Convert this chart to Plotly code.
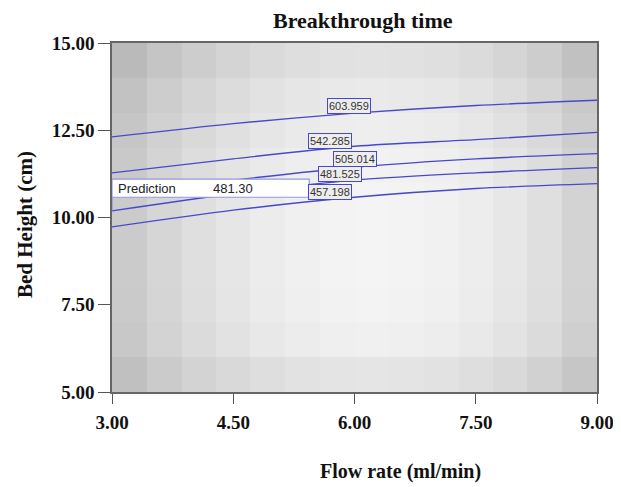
import numpy as np
import plotly.graph_objects as go

# contour lines of predicted breakthrough time
flow_pts = [3.0, 4.5, 6.0, 7.5, 9.0]
line_levels = ['603.959', '542.285', '505.014', '481.525', '457.198']
bed_603 = [12.31, 12.69, 12.99, 13.21, 13.36]
bed_542 = [11.28, 11.68, 12.04, 12.23, 12.44]
bed_505 = [10.65, 11.07, 11.44, 11.68, 11.83]
bed_481 = [10.19, 10.68, 11.07, 11.28, 11.43]
bed_457 = [9.73, 10.21, 10.58, 10.83, 10.97]
label_x = [5.93, 5.70, 6.00, 5.82, 5.70]

# prediction flag
pred_flow = 3.0
pred_bed = 10.19
pred_value = '481.30'

# background shading (gray level), rows from bottom (5 cm) to top (15 cm)
shade_x = [3.0, 3.43, 3.86, 4.29, 4.71, 5.14, 5.57, 6.0, 6.43, 6.86, 7.29, 7.71, 8.14, 8.57, 9.0]
shade_y = [5, 6, 7, 8, 9, 10, 11, 12, 13, 14, 15]
shade = [
    [192, 203, 211, 217, 222, 226, 228, 229, 228, 226, 222, 217, 209, 198],
    [200, 211, 219, 226, 232, 236, 239, 240, 239, 237, 233, 227, 219, 207],
    [202, 213, 222, 229, 235, 239, 242, 243, 242, 240, 236, 230, 222, 210],
    [203, 214, 223, 230, 236, 240, 243, 244, 243, 241, 237, 231, 223, 211],
    [203, 214, 223, 230, 236, 240, 243, 244, 243, 241, 237, 231, 223, 211],
    [203, 214, 223, 230, 236, 240, 243, 244, 243, 241, 237, 231, 223, 211],
    [201, 212, 221, 228, 234, 238, 241, 242, 241, 239, 235, 229, 221, 209],
    [198, 209, 217, 224, 230, 234, 237, 238, 237, 235, 231, 225, 217, 205],
    [194, 205, 213, 220, 226, 230, 233, 234, 233, 231, 227, 221, 213, 201],
    [186, 197, 205, 212, 218, 222, 225, 226, 225, 223, 219, 213, 205, 193],
]

x_ticks = [3.0, 4.5, 6.0, 7.5, 9.0]
y_ticks = [5.0, 7.5, 10.0, 12.5, 15.0]

line_col = 'rgb(72,72,205)'
serif = 'Liberation Serif'
sans = 'Liberation Sans'

fig = go.Figure()
fig.add_trace(go.Heatmap(
    x=shade_x, y=shade_y, z=shade,
    colorscale=[[0, 'rgb(0,0,0)'], [1, 'rgb(255,255,255)']],
    zmin=0, zmax=255, showscale=False, hoverinfo='skip'))

all_lines = [bed_603, bed_542, bed_505, bed_481, bed_457]
for lvl, ys in zip(line_levels, all_lines):
    fig.add_trace(go.Scatter(
        x=flow_pts, y=ys, mode='lines', name=lvl,
        line=dict(color=line_col, width=1.4, shape='spline', smoothing=0.8),
        showlegend=False))

# contour labels sit on their line
for lvl, ys, lx in zip(line_levels, all_lines, label_x):
    fig.add_annotation(
        x=lx, y=float(np.interp(lx, flow_pts, ys)), xref='x', yref='y',
        text=lvl, showarrow=False, xanchor='center', yanchor='bottom',
        font=dict(family=sans, size=11, color='#333'),
        bgcolor='#ededed', bordercolor=line_col, borderwidth=1, borderpad=1)

# prediction flag box
fig.add_shape(type='line', x0=pred_flow, x1=pred_flow, y0=pred_bed, y1=10.58,
              line=dict(color='rgb(140,140,225)', width=1.2), layer='above')
fig.add_shape(type='rect', x0=pred_flow, x1=5.44, y0=10.58, y1=11.10,
              fillcolor='white', line=dict(color='rgb(150,150,225)', width=1.2),
              layer='above')
fig.add_annotation(x=3.05, y=10.84, text='Prediction', showarrow=False,
                   xanchor='left', yanchor='middle',
                   font=dict(family=sans, size=13, color='#222'))
fig.add_annotation(x=4.22, y=10.84, text=pred_value, showarrow=False,
                   xanchor='left', yanchor='middle',
                   font=dict(family=sans, size=13, color='#222'))

# axis titles
fig.add_annotation(x=0.594, y=-0.228, xref='paper', yref='paper',
                   text='Flow rate (ml/min)', showarrow=False,
                   xanchor='center', yanchor='middle',
                   font=dict(family=serif, size=20, color='#111', weight='bold'))
fig.add_annotation(x=-0.179, y=0.479, xref='paper', yref='paper',
                   text='Bed Height (cm)', showarrow=False, textangle=-90,
                   xanchor='center', yanchor='middle',
                   font=dict(family=serif, size=21, color='#111', weight='bold'))

# page body adds an 8px offset, margins compensate for it
tick_font = dict(family=serif, size=19, color='#111', weight='bold')
fig.update_layout(
    width=621, height=487,
    margin=dict(l=104, r=32, t=35, b=103),
    paper_bgcolor='white', plot_bgcolor='white',
    title=dict(text='Breakthrough time', x=0.517, xref='paper',
               y=0.975, yanchor='middle', xanchor='center',
               font=dict(family=serif, size=22, color='#111', weight='bold')),
    xaxis=dict(range=[3, 9], tickvals=x_ticks, tickformat='.2f',
               ticks='outside', ticklen=10, tickcolor='#555', tickwidth=1.2,
               showline=True, linecolor='#666', linewidth=1.5, mirror=True,
               showgrid=False, zeroline=False, tickfont=tick_font,
               ticklabelstandoff=2),
    yaxis=dict(range=[5, 15], tickvals=y_ticks, tickformat='.2f',
               ticks='outside', ticklen=12, tickcolor='#555', tickwidth=1.2,
               showline=True, linecolor='#666', linewidth=1.5, mirror=True,
               showgrid=False, zeroline=False, tickfont=tick_font),
)

fig.write_html('out.html')
